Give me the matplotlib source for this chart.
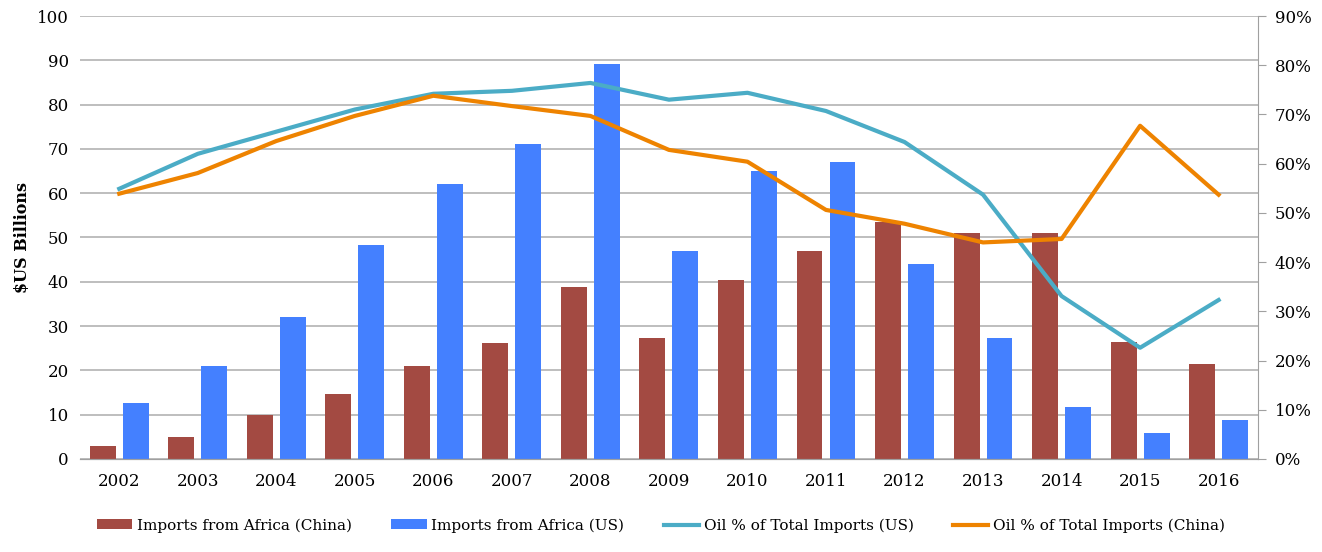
import matplotlib.pyplot as plt
import numpy as np

years = ['2002', '2003', '2004', '2005', '2006', '2007', '2008', '2009',
         '2010', '2011', '2012', '2013', '2014', '2015', '2016']
china_imports = [3, 5, 10, 14.7, 21, 26.2, 38.9, 27.3, 40.5, 47, 53.6, 51, 51, 26.3, 21.5]
us_imports = [12.6, 21, 32, 48.3, 62, 71.1, 89.2, 47, 65, 67, 44, 27.3, 11.7, 5.9, 8.9]
oil_us = [54.9, 62, 66.5, 71, 74.2, 74.8, 76.4, 73, 74.4, 70.7, 64.4, 53.7, 33.1, 22.6, 32.3]
oil_china = [53.9, 58.1, 64.6, 69.7, 73.8, 71.7, 69.7, 62.8, 60.4, 50.6, 47.8, 44, 44.7, 67.7, 53.7]

plt.rcParams['font.family'] = ['DejaVu Serif']

fig = plt.figure(figsize=(13.22, 5.52), dpi=100)
ax = fig.add_axes([0.0605, 0.1685, 0.891, 0.8025])
ax2 = ax.twinx()

x = np.arange(len(years))
w = 0.33
b1 = ax.bar(x - 0.21, china_imports, w, color='#A34A42', label='Imports from Africa (China)', zorder=2)
b2 = ax.bar(x + 0.21, us_imports, w, color='#4480FF', label='Imports from Africa (US)', zorder=2)
l1, = ax2.plot(x, np.array(oil_us) / 100, color='#4BACC6', lw=3, label='Oil % of Total Imports (US)')
l2, = ax2.plot(x, np.array(oil_china) / 100, color='#EE8300', lw=3, label='Oil % of Total Imports (China)')

ax.set_xlim(-0.5, len(years) - 0.5)
ax.set_ylim(0, 100)
ax.set_yticks(range(0, 101, 10))
ax.yaxis.grid(True, color='#b3b3b3', lw=1.2, zorder=0)
ax.set_axisbelow(True)
ax.set_xticks(x)
ax.set_xticklabels(years)
ax.tick_params(axis='both', length=0, labelsize=12, pad=10)
ax.tick_params(axis='y', pad=8)
ax.set_ylabel('$US Billions', fontsize=11.5, fontweight='bold', labelpad=4)

ax2.set_ylim(0, 0.9)
ax2.set_yticks(np.arange(0, 0.91, 0.1))
ax2.set_yticklabels(['%d%%' % v for v in range(0, 91, 10)])
ax2.tick_params(axis='y', length=6, color='#a0a0a0', labelsize=12, pad=6)

for a in (ax, ax2):
    a.spines['top'].set_visible(False)
    a.spines['left'].set_visible(False)
    a.spines['right'].set_visible(False)
    a.spines['bottom'].set_color('#a0a0a0')
ax2.spines['right'].set_visible(True)
ax2.spines['right'].set_color('#a0a0a0')

fig.legend(handles=[b1, b2, l1, l2], loc='lower center', ncol=4, frameon=False,
           fontsize=11, bbox_to_anchor=(0.5, 0.01), handlelength=2.3, handleheight=0.6,
           columnspacing=2.6, handletextpad=0.3)

fig.savefig('out.png', dpi=100)
